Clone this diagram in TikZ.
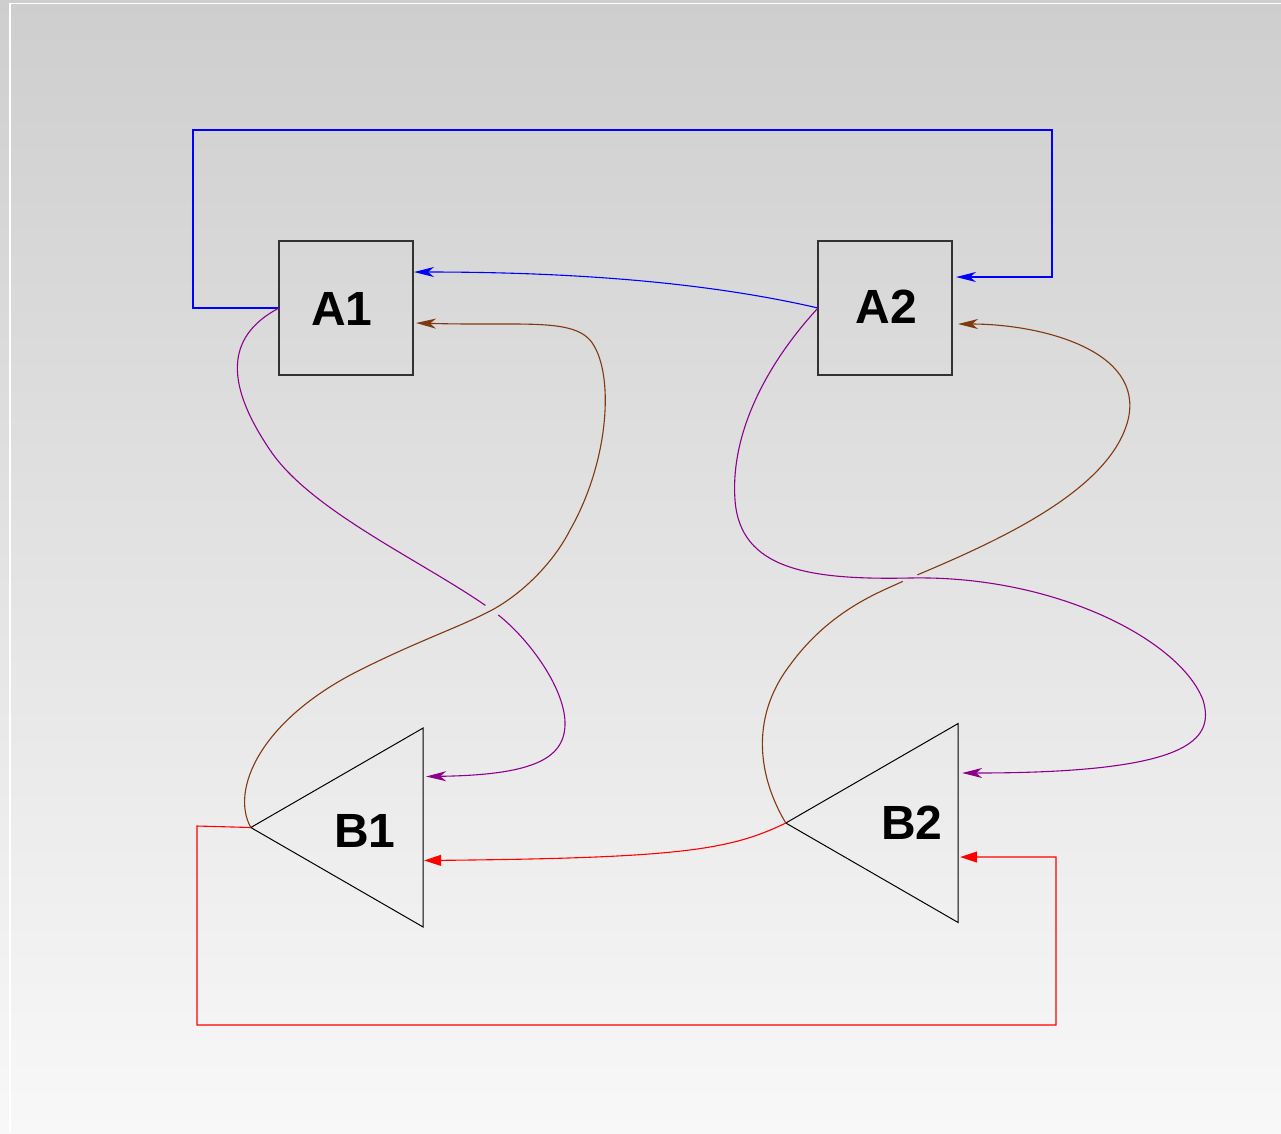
\documentclass[tikz,border=0pt]{standalone}
\usepackage{fontspec}
\setmainfont{Liberation Sans}
\usetikzlibrary{arrows.meta,shapes.geometric}
\definecolor{bgtop}{RGB}{206,206,206}
\definecolor{bgbot}{RGB}{248,248,248}
\definecolor{cblue}{RGB}{0,0,255}
\definecolor{cbrown}{RGB}{128,56,16}
\definecolor{cpurple}{RGB}{140,0,140}
\definecolor{cred}{RGB}{255,0,0}
\definecolor{cedge}{RGB}{50,50,50}
\begin{document}
\begin{tikzpicture}[x=1pt,y=-1pt,
  box/.style={draw=cedge, line width=1.2pt, minimum width=134pt, minimum height=134pt, inner sep=0pt, outer sep=0pt},
  tri/.style={draw=black, line width=1pt, regular polygon, regular polygon sides=3, regular polygon rotate=90, minimum size=229.8pt, inner sep=0pt, outer sep=0pt},
  lab/.style={font=\fontsize{48}{58}\selectfont\bfseries, inner sep=0pt},
  conn/.style={line width=1.1pt},
  stl/.style={-{Stealth[length=20pt,width=10pt,inset=6pt]}},
  trarrow/.style={-{Triangle[length=17pt,width=11pt]}},
]
\useasboundingbox (0,0) rectangle (1281,1133);
\shade[top color=bgtop, bottom color=bgbot] (0,0) rectangle (1281,1133);
\draw[white, line width=1.6pt] (10,1133) -- (10,3.5) -- (1281,3.5);

% shapes
\node[box] (A1) at (346,308) {};
\node[box] (A2) at (885,308) {};
\node[tri] (B1) at (365.7,827.5) {};
\node[tri] (B2) at (900.7,823) {};
\node[lab] (A1t) at (342,308.5) {A1};
\node[lab] (A2t) at (886.5,306.5) {A2};
\node[lab] (B1t) at (365,830.5) {B1};
\node[lab] (B2t) at (912,823) {B2};

% ports
\coordinate (A1b) at ([shift={(1,-36)}]A1.east);
\coordinate (A1r) at ([shift={(3,15)}]A1.east);
\coordinate (A2b) at ([shift={(4,-31)}]A2.east);
\coordinate (A2r) at ([shift={(6,16)}]A2.east);
\coordinate (B1p) at ([shift={(3,-51)}]B1.east);
\coordinate (B1r) at ([shift={(1,33)}]B1.east);
\coordinate (B2p) at ([shift={(4,-50)}]B2.east);
\coordinate (B2r) at ([shift={(2,34)}]B2.east);
\coordinate (X1) at (492,610);
\coordinate (X2) at (910,578);

% blue
\draw[conn, cblue, stl] (A1.west) -- ++(-86,0) |- (1052,130) |- (A2b);
\draw[conn, cblue, stl] (A2.west) .. controls (740,290) and (620,272) .. (A1b);

% purple A1 -> B1 (passes under brown)
\draw[conn, cpurple, shorten >=8pt] (A1.west) .. controls (222,338) and (228,388) .. (270,450) .. controls (310,510) and (420,560) .. (X1);
\draw[conn, cpurple, stl, shorten <=8pt] (X1) .. controls (530,640) and (566,690) .. (565,725) .. controls (564,760) and (530,775) .. (B1p);

% brown B1 -> A1
\draw[conn, cbrown, stl] (B1.west) .. controls (230,790) and (260,720) .. (360,670) .. controls (420,640) and (460,627) .. (X1) .. controls (525,592) and (555,560) .. (570,530) .. controls (610,460) and (615,370) .. (590,340) .. controls (570,318) and (520,326) .. (A1r);

% purple A2 -> B2
\draw[conn, cpurple, stl] (A2.west) .. controls (770,360) and (730,430) .. (735,500) .. controls (740,570) and (810,580) .. (X2) .. controls (1055,575) and (1180,640) .. (1203,700) .. controls (1215,740) and (1190,773) .. (B2p);

% brown B2 -> A2 (passes under purple)
\draw[conn, cbrown, shorten >=8pt] (B2.west) .. controls (760,780) and (748,720) .. (790,665) .. controls (830,610) and (880,592) .. (X2);
\draw[conn, cbrown, stl, shorten <=8pt] (X2) .. controls (1000,540) and (1110,490) .. (1128,420) .. controls (1145,350) and (1040,324) .. (A2r);

% red
\draw[conn, cred, trarrow] (B2.west) .. controls (730,850) and (680,858) .. (B1r);
\draw[conn, cred, trarrow] (B1.west) -- (197,826) |- (1056,1025) |- (B2r);
\end{tikzpicture}
\end{document}
